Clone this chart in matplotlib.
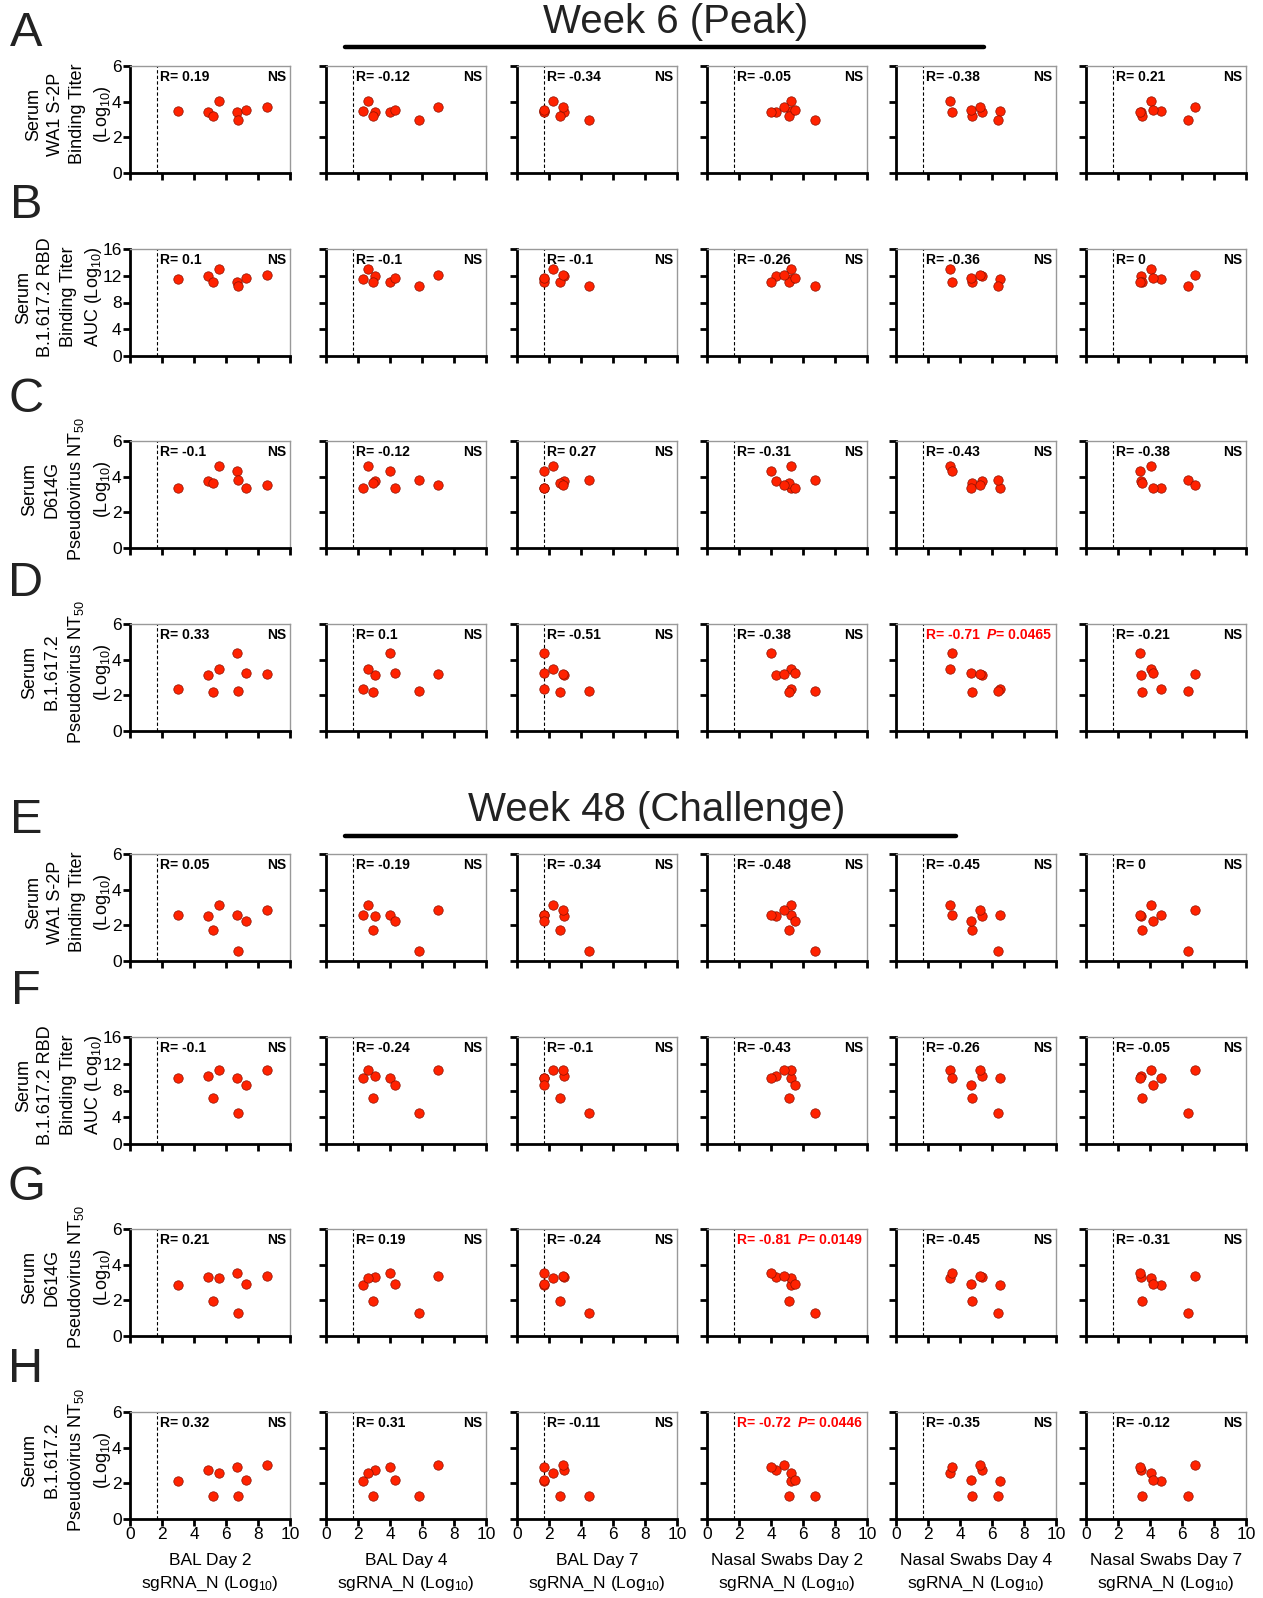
import matplotlib
matplotlib.use('Agg')
import matplotlib.pyplot as plt
import numpy as np

plt.rcParams['font.family'] = ['Liberation Sans', 'DejaVu Sans']
plt.rcParams['mathtext.fontset'] = 'custom'
plt.rcParams['mathtext.rm'] = 'Liberation Sans'
plt.rcParams['mathtext.it'] = 'Liberation Sans:italic'
plt.rcParams['mathtext.bf'] = 'Liberation Sans:bold'

# sgRNA_N (log10) per animal, one list per sampling column
bal_d2 = [2.97, 4.87, 5.20, 5.59, 6.69, 6.72, 7.23, 8.54]
bal_d4 = [2.33, 3.07, 2.92, 2.61, 3.99, 5.80, 4.32, 7.03]
bal_d7 = [1.66, 2.92, 2.67, 2.28, 1.69, 4.50, 1.70, 2.87]
nasal_d2 = [5.23, 4.31, 5.13, 5.23, 4.03, 6.77, 5.51, 4.82]
nasal_d4 = [6.51, 5.38, 4.74, 3.38, 3.51, 6.38, 4.69, 5.26]
nasal_d7 = [4.67, 3.41, 3.51, 4.05, 3.38, 6.38, 4.18, 6.82]
col_names = ['BAL Day 2', 'BAL Day 4', 'BAL Day 7',
             'Nasal Swabs Day 2', 'Nasal Swabs Day 4', 'Nasal Swabs Day 7']

# serum responses per animal (same animal order)
wk6_wa1 = [3.47, 3.43, 3.19, 4.03, 3.40, 3.00, 3.53, 3.68]
wk6_rbd = [11.45, 11.9, 11.05, 13.0, 11.05, 10.42, 11.6, 12.1]
wk6_d614g = [3.39, 3.73, 3.64, 4.60, 4.30, 3.83, 3.35, 3.56]
wk6_delta = [2.33, 3.14, 2.18, 3.46, 4.40, 2.24, 3.23, 3.17]
wk48_wa1 = [2.59, 2.50, 1.75, 3.12, 2.60, 0.55, 2.22, 2.86]
wk48_rbd = [9.8, 10.2, 6.93, 11.1, 9.8, 4.67, 8.84, 11.0]
wk48_d614g = [2.84, 3.30, 1.95, 3.28, 3.54, 1.31, 2.90, 3.37]
wk48_delta = [2.14, 2.75, 1.31, 2.58, 2.92, 1.31, 2.16, 3.05]

# Spearman R per panel, and P where significant
r_wk6_wa1 = ['0.19', '-0.12', '-0.34', '-0.05', '-0.38', '0.21']
r_wk6_rbd = ['0.1', '-0.1', '-0.1', '-0.26', '-0.36', '0']
r_wk6_d614g = ['-0.1', '-0.12', '0.27', '-0.31', '-0.43', '-0.38']
r_wk6_delta = ['0.33', '0.1', '-0.51', '-0.38', '-0.71', '-0.21']
r_wk48_wa1 = ['0.05', '-0.19', '-0.34', '-0.48', '-0.45', '0']
r_wk48_rbd = ['-0.1', '-0.24', '-0.1', '-0.43', '-0.26', '-0.05']
r_wk48_d614g = ['0.21', '0.19', '-0.24', '-0.81', '-0.45', '-0.31']
r_wk48_delta = ['0.32', '0.31', '-0.11', '-0.72', '-0.35', '-0.12']
p_wk6_delta = [None, None, None, None, '0.0465', None]
p_wk48_d614g = [None, None, None, '0.0149', None, None]
p_wk48_delta = [None, None, None, '0.0446', None, None]

lab_wa1 = 'Serum\nWA1 S-2P\nBinding Titer\n(Log$_{10}$)'
lab_rbd = 'Serum\nB.1.617.2 RBD\nBinding Titer\nAUC (Log$_{10}$)'
lab_d614g = 'Serum\nD614G\nPseudovirus NT$_{50}$\n(Log$_{10}$)'
lab_delta = 'Serum\nB.1.617.2\nPseudovirus NT$_{50}$\n(Log$_{10}$)'

lod = 1.7
cols = [bal_d2, bal_d4, bal_d7, nasal_d2, nasal_d4, nasal_d7]
none6 = [None] * 6
rows = [
    ('A', wk6_wa1, 6, lab_wa1, r_wk6_wa1, none6),
    ('B', wk6_rbd, 16, lab_rbd, r_wk6_rbd, none6),
    ('C', wk6_d614g, 6, lab_d614g, r_wk6_d614g, none6),
    ('D', wk6_delta, 6, lab_delta, r_wk6_delta, p_wk6_delta),
    ('E', wk48_wa1, 6, lab_wa1, r_wk48_wa1, none6),
    ('F', wk48_rbd, 16, lab_rbd, r_wk48_rbd, none6),
    ('G', wk48_d614g, 6, lab_d614g, r_wk48_d614g, p_wk48_d614g),
    ('H', wk48_delta, 6, lab_delta, r_wk48_delta, p_wk48_delta),
]

W, H = 1263, 1598
fig = plt.figure(figsize=(W / 100, H / 100), dpi=100)
col_left = [130, 326, 517, 707, 896, 1086]
row_top = [66, 249, 441, 624, 854, 1037, 1229, 1412]
letter_y = [34, 205, 399, 584, 820, 992, 1187, 1369]
pw, ph = 160, 107
narrow = ['Liberation Sans Narrow', 'Liberation Sans']

for i, (letter, yv, ymax, ylab, rvals, pvals) in enumerate(rows):
    top = row_top[i]
    fig.text(26 / W, 1 - letter_y[i] / H, letter, fontsize=35, ha='center', va='center',
             color='#222222')
    for j, xv in enumerate(cols):
        ax = fig.add_axes([col_left[j] / W, 1 - (top + ph) / H, pw / W, ph / H])
        ax.scatter(xv, yv, s=46, c='#ff2200', edgecolors='#8a1000', linewidths=0.5,
                   zorder=3, clip_on=False)
        ax.axvline(lod, color='k', ls=(0, (3, 2)), lw=0.8)
        ax.set_xlim(0, 10)
        ax.set_ylim(0, ymax)
        ax.set_xticks(np.arange(0, 11, 2))
        ax.set_yticks(np.arange(0, ymax + 1, 2 if ymax == 6 else 4))
        for s in ['left', 'bottom']:
            ax.spines[s].set_linewidth(2)
        for s in ['top', 'right']:
            ax.spines[s].set_linewidth(1)
            ax.spines[s].set_color('#999999')
        ax.tick_params(direction='out', length=5, width=2, labelsize=12.5, pad=1)
        if j > 0:
            ax.set_yticklabels([])
        else:
            ax.set_ylabel(ylab, fontsize=13, linespacing=1.4)
            ax.yaxis.set_label_coords(-0.105 if ymax == 6 else -0.165, 0.55)
        if i < len(rows) - 1:
            ax.set_xticklabels([])
        else:
            ax.set_xlabel(col_names[j] + '\nsgRNA_N (Log$_{10}$)', fontsize=12.5,
                          linespacing=1.45, labelpad=8)
        ty = 0.9
        if pvals[j] is None:
            ax.text(1.85, ty, 'R= ' + rvals[j], transform=ax.get_xaxis_transform(),
                    fontsize=10, fontweight='bold', family=narrow, va='center')
            ax.text(0.975, ty, 'NS', transform=ax.transAxes, fontsize=10,
                    fontweight='bold', family=narrow, ha='right', va='center')
        else:
            t1 = ax.text(1.85, ty, 'R= ' + rvals[j], transform=ax.get_xaxis_transform(),
                         fontsize=10, fontweight='bold', family=narrow, va='center',
                         color='red')
            t2 = ax.annotate('P', xy=(1, 0.5), xycoords=t1, xytext=(5, 0),
                             textcoords='offset points', fontsize=10, fontweight='bold',
                             style='italic', family=narrow, va='center', color='red')
            ax.annotate('= ' + pvals[j], xy=(1, 0.5), xycoords=t2, xytext=(0, 0),
                        textcoords='offset points', fontsize=10, fontweight='bold',
                        family=narrow, va='center', color='red')

# section titles with underline bars
fig.text(676 / W, 1 - 33 / H, 'Week 6 (Peak)', fontsize=29, ha='center',
         va='baseline', color='#222222')
fig.add_artist(plt.Line2D([345 / W, 984 / W], [1 - 47 / H, 1 - 47 / H], color='k',
                          lw=3.2, solid_capstyle='round'))
fig.text(657 / W, 1 - 821 / H, 'Week 48 (Challenge)', fontsize=29, ha='center',
         va='baseline', color='#222222')
fig.add_artist(plt.Line2D([345 / W, 956 / W], [1 - 836 / H, 1 - 836 / H], color='k',
                          lw=3.2, solid_capstyle='round'))

fig.savefig('out.png', dpi=100)
